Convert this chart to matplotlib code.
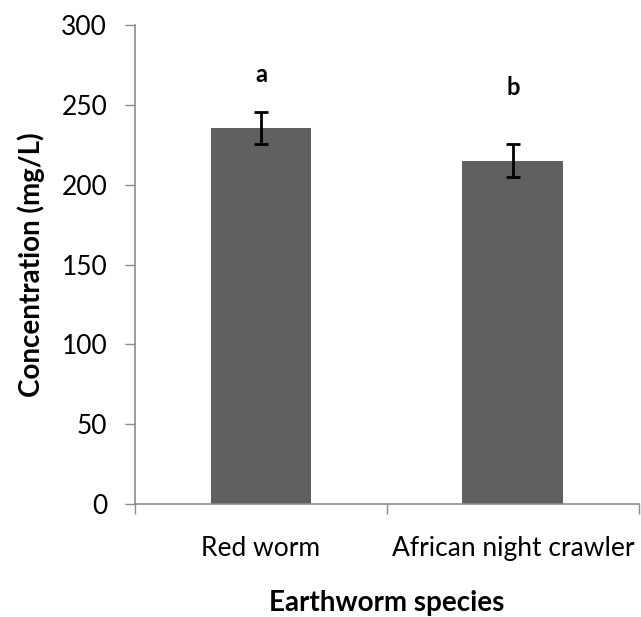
import matplotlib.pyplot as plt

# dados
especies = ["Red worm", "African night crawler"]
concentracao = [235.5, 215.0]
erro = [10.0, 10.5]
letras = ["a", "b"]
pos_letras = [269, 261]

plt.rcParams["font.family"] = ["Lato", "DejaVu Sans"]

fig = plt.figure(figsize=(6.41, 6.17), dpi=100)
ax = fig.add_axes([0.2106, 0.1827, 0.786, 0.777])

x = [i + 0.5 for i in range(len(especies))]
ax.bar(x, concentracao, width=0.4, color="#606060", zorder=2)
ax.errorbar(x, concentracao, yerr=erro, fmt="none", ecolor="black",
            elinewidth=2, capsize=5, capthick=2, zorder=3)

for xi, letra, yl in zip(x, letras, pos_letras):
    ax.text(xi, yl, letra, ha="center", va="center", fontsize=17,
            fontweight="bold")

ax.set_xlim(0, 2)
ax.set_ylim(0, 300)
ax.set_yticks(range(0, 301, 50))
ax.set_xticks([0, 1, 2])
ax.set_xticklabels([])
ax.set_xticks(x, minor=True)
ax.set_xticklabels(especies, minor=True)

ax.tick_params(axis="y", length=7, width=1, color="#8c8c8c", pad=13,
               labelsize=19)
ax.tick_params(axis="x", which="major", length=7, width=1, color="#8c8c8c")
ax.tick_params(axis="x", which="minor", length=0, pad=23, labelsize=19)

for lado in ["top", "right"]:
    ax.spines[lado].set_visible(False)
for lado in ["left", "bottom"]:
    ax.spines[lado].set_color("#8c8c8c")
    ax.spines[lado].set_linewidth(1.2)

ax.set_ylabel("Concentration (mg/L)", fontsize=20, fontweight="bold",
              labelpad=12)
ax.set_xlabel("Earthworm species", fontsize=20, fontweight="bold",
              labelpad=21)

fig.savefig("out.png", dpi=100)
